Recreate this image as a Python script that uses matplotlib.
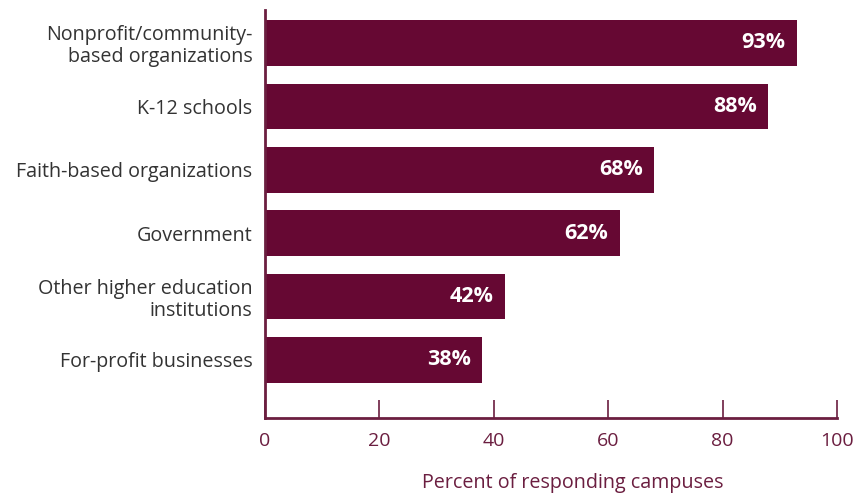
import numpy as np
import matplotlib.pyplot as plt

categories = ['Nonprofit/community-\nbased organizations', 'K-12 schools',
              'Faith-based organizations', 'Government',
              'Other higher education\ninstitutions', 'For-profit businesses']
values = [93, 88, 68, 62, 42, 38]
xticks = [0, 20, 40, 60, 80, 100]

bar_color = '#660833'
axis_color = '#6b1e40'

plt.rcParams['font.family'] = ['Open Sans', 'DejaVu Sans']

fig = plt.figure(figsize=(8.56, 4.94), dpi=100)
ax = fig.add_axes([265 / 856, 1 - 418 / 494, 572 / 856, 408 / 494])

y = np.arange(len(categories))
ax.barh(y, values, height=0.72, color=bar_color)
for yi, v in zip(y, values):
    ax.text(v - 2.0, yi, f'{v}%', ha='right', va='center', color='white',
            fontsize=15.5, fontweight='bold')

ax.set_xlim(0, 100)
ax.set_ylim(5.915, -0.52)
ax.set_yticks(y)
ax.set_yticklabels(categories, fontsize=14.2, color='#333333', linespacing=1.1)
ax.set_xticks(xticks)
ax.set_xticklabels([str(t) for t in xticks], fontsize=14, color=axis_color)
ax.tick_params(axis='y', length=0, pad=9)
ax.tick_params(axis='x', direction='in', length=13, width=1.2, color=axis_color, pad=10)
ax.set_xlabel('Percent of responding campuses', fontsize=14.2, color=axis_color)
# label sits a bit right of the axis centre, just above the bottom edge
ax.xaxis.set_label_coords(0.538, -0.135)

for side in ['top', 'right']:
    ax.spines[side].set_visible(False)
for side in ['left', 'bottom']:
    ax.spines[side].set_color(axis_color)
    ax.spines[side].set_linewidth(2)

fig.savefig('out.png', dpi=100)
